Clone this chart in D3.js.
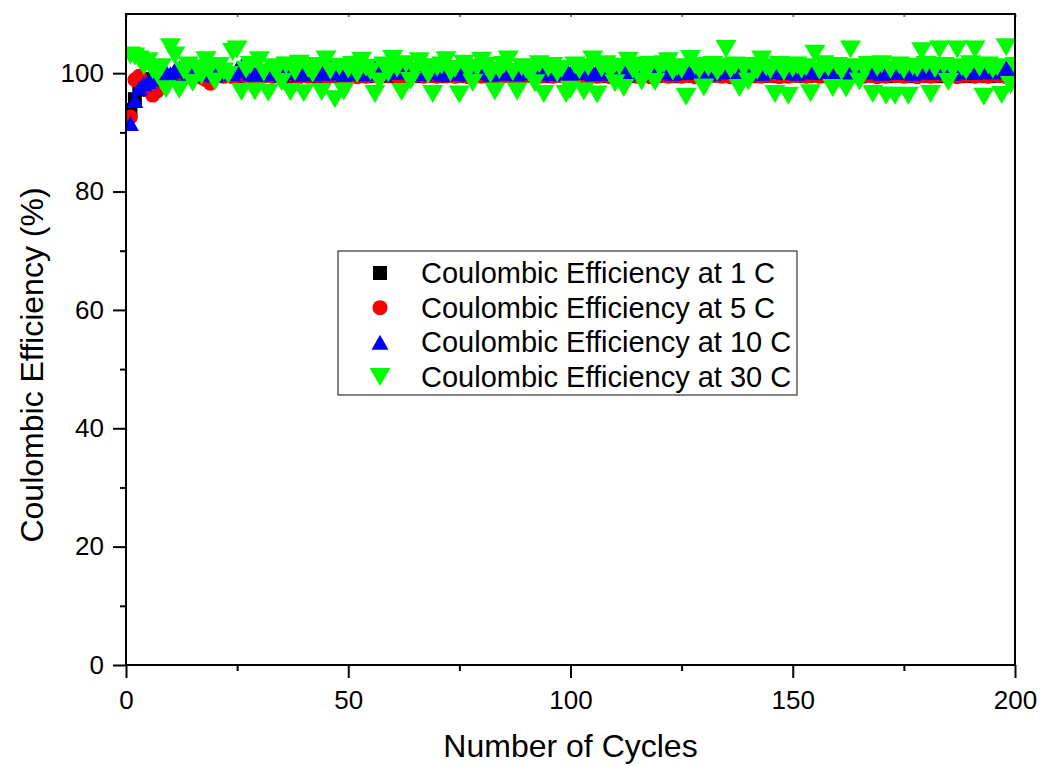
<!DOCTYPE html>
<html>
<head>
<meta charset="utf-8">
<script src="https://cdn.jsdelivr.net/npm/d3@7"></script>
<style>
  body { margin: 0; background: #fff; }
  text { font-family: "Liberation Sans", Arial, sans-serif; fill: #000; }
</style>
</head>
<body>
<svg id="chart"></svg>
<script>
// cycle numbers 1..200
const cycles = d3.range(1, 201);

const ce1C = [
  93.8, 95.6, 97.2, 98.0, 98.6, 99.0, 99.2, 99.4, 99.5, 99.6,
  99.5, 99.7, 99.6, 99.5, 99.7, 99.6, 99.4, 99.6, 99.5, 99.7,
  99.6, 99.5, 99.7, 99.6, 99.8, 99.6, 99.5, 99.7, 99.6, 99.5,
  99.7, 99.6, 99.8, 99.5, 99.6, 99.7, 99.6, 99.5, 99.7, 99.8,
  99.6, 99.7, 99.5, 99.6, 99.8, 99.7, 99.6, 99.5, 99.7, 99.6,
  99.8, 99.6, 99.7, 99.5, 99.6, 99.7, 99.8, 99.6, 99.5, 99.7,
  99.6, 99.8, 99.7, 99.6, 99.5, 99.7, 99.6, 99.8, 99.6, 99.7,
  99.5, 99.6, 99.7, 99.8, 99.6, 99.7, 99.5, 99.6, 99.8, 99.7,
  99.6, 99.5, 99.7, 99.6, 99.8, 99.7, 99.6, 99.5, 99.7, 99.6,
  99.8, 99.6, 99.7, 99.6, 99.5, 99.7, 99.8, 99.6, 99.7, 99.6,
  99.5, 99.7, 99.6, 99.8, 99.7, 99.6, 99.5, 99.7, 99.6, 99.8,
  99.6, 99.7, 99.5, 99.6, 99.8, 99.7, 99.6, 99.7, 99.5, 99.6,
  99.8, 99.7, 99.6, 99.5, 99.7, 99.6, 99.8, 99.6, 99.7, 99.5,
  99.6, 99.7, 99.8, 99.6, 99.7, 99.5, 99.6, 99.8, 99.7, 99.6,
  99.5, 99.7, 99.6, 99.8, 99.6, 99.7, 99.5, 99.6, 99.7, 99.8,
  99.6, 99.7, 99.5, 99.6, 99.8, 99.7, 99.6, 99.5, 99.7, 99.6,
  99.8, 99.6, 99.7, 99.5, 99.6, 99.7, 99.8, 99.6, 99.7, 99.6,
  99.5, 99.7, 99.6, 99.8, 99.7, 99.6, 99.5, 99.7, 99.6, 99.8,
  99.6, 99.7, 99.5, 99.6, 99.8, 99.7, 99.6, 99.7, 99.5, 99.6,
  99.8, 99.7, 99.6, 99.5, 99.7, 99.6, 99.8, 99.6, 99.7, 99.6
];

const ce5C = [
  92.6, 98.9, 99.5, 98.3, 97.6, 96.3, 97.0, 98.2, 98.8, 99.1,
  99.3, 99.5, 99.2, 99.6, 99.4, 99.7, 99.3, 98.9, 98.3, 99.4,
  99.6, 99.5, 99.7, 99.4, 99.6, 99.8, 99.5, 99.6, 99.7, 99.4,
  99.6, 99.7, 99.5, 99.8, 99.6, 99.5, 99.7, 99.6, 99.4, 99.7,
  99.5, 99.8, 99.6, 99.7, 99.5, 99.6, 99.8, 99.6, 99.5, 99.7,
  99.6, 99.4, 99.7, 99.5, 99.8, 99.6, 99.5, 99.7, 99.6, 99.8,
  99.5, 99.6, 99.7, 99.4, 99.6, 99.8, 99.5, 99.7, 99.6, 99.5,
  99.7, 99.6, 99.8, 99.5, 99.6, 99.7, 99.4, 99.6, 99.8, 99.5,
  99.7, 99.6, 99.5, 99.8, 99.6, 99.7, 99.5, 99.6, 99.4, 99.7,
  99.6, 99.8, 99.5, 99.6, 99.7, 99.5, 99.8, 99.6, 99.4, 99.7,
  99.6, 99.5, 99.8, 99.6, 99.7, 99.5, 99.6, 99.8, 99.4, 99.6,
  99.7, 99.5, 99.6, 99.8, 99.5, 99.7, 99.6, 99.4, 99.7, 99.6,
  99.8, 99.5, 99.6, 99.7, 99.5, 99.8, 99.6, 99.4, 99.7, 99.5,
  99.6, 99.8, 99.7, 99.5, 99.6, 99.4, 99.7, 99.6, 99.8, 99.5,
  99.7, 99.6, 99.5, 99.8, 99.6, 99.7, 99.4, 99.6, 99.5, 99.8,
  99.6, 99.7, 99.5, 99.6, 99.8, 99.5, 99.7, 99.6, 99.4, 99.7,
  99.6, 99.8, 99.5, 99.7, 99.6, 99.5, 100.1, 99.6, 99.4, 99.7,
  99.5, 99.8, 99.6, 99.7, 99.5, 99.6, 99.8, 99.4, 99.6, 99.7,
  99.5, 99.6, 99.8, 99.7, 99.5, 99.6, 99.4, 99.7, 99.6, 99.8,
  99.5, 99.7, 99.6, 99.5, 99.8, 99.6, 99.7, 99.4, 99.6, 99.7
];

const ce10C = [
  91.5, 95.4, 97.5, 98.2, 98.6, 99.0, 99.4, 99.8, 100.3, 99.9,
  100.6, 100.9, 100.4, 99.9, 100.7, 100.2, 99.8, 100.5, 100.1, 99.7,
  100.3, 100.0, 100.6, 99.9, 100.8, 101.2, 100.4, 100.0, 99.8, 100.5,
  100.2, 99.9, 100.6, 100.3, 99.7, 100.1, 100.9, 100.4, 99.8, 100.2,
  100.5, 99.9, 100.7, 100.3, 100.0, 101.3, 100.6, 100.1, 99.8, 100.4,
  100.0, 100.6, 100.2, 99.9, 100.4, 101.0, 100.3, 99.8, 100.5, 100.1,
  100.7, 100.2, 101.4, 100.6, 100.0, 100.3, 99.9, 100.5, 100.8, 100.2,
  99.8, 100.4, 100.1, 100.7, 100.0, 99.9, 100.5, 100.3, 100.9, 100.1,
  100.4, 99.8, 100.6, 100.2, 100.0, 100.8, 100.3, 99.9, 100.5, 100.1,
  100.3, 100.7, 100.0, 101.2, 100.4, 99.9, 100.6, 100.2, 100.8, 100.0,
  100.3, 100.9, 100.1, 100.5, 99.9, 100.4, 100.7, 100.0, 100.3, 100.6,
  100.1, 100.8, 100.2, 99.9, 100.5, 100.3, 100.7, 100.0, 100.4, 100.9,
  100.2, 100.6, 100.0, 100.4, 100.8, 100.1, 100.5, 100.3, 101.0, 100.2,
  100.6, 100.0, 100.4, 100.7, 100.2, 101.5, 100.3, 100.0, 100.6, 100.9,
  100.2, 100.5, 100.0, 100.8, 100.3, 100.6, 101.1, 100.1, 100.4, 100.7,
  100.0, 100.5, 100.9, 100.2, 100.6, 100.1, 100.4, 100.8, 100.0, 100.5,
  100.3, 100.7, 100.1, 100.4, 101.2, 100.6, 100.2, 101.4, 100.5, 100.0,
  100.4, 100.8, 100.1, 100.5, 100.2, 100.7, 100.0, 100.4, 100.9, 100.2,
  100.6, 100.1, 100.5, 100.8, 100.3, 100.0, 100.6, 100.2, 100.7, 100.4,
  100.1, 100.6, 100.3, 100.9, 100.2, 100.5, 100.7, 101.0, 100.4, 100.8
];

const ce30C = [
  103.0, 102.8, 102.3, 101.2, 102.0, 100.5, 99.8, 101.0, 97.3, 104.4,
  103.0, 97.2, 100.4, 101.3, 98.4, 100.8, 99.6, 102.2, 100.9, 98.6,
  101.2, 100.3, 99.7, 103.6, 104.0, 96.8, 100.6, 101.4, 96.9, 102.2,
  100.1, 96.7, 101.0, 100.5, 98.5, 101.3, 96.8, 100.2, 101.6, 96.6,
  100.7, 99.9, 101.2, 96.8, 102.3, 100.4, 95.6, 101.1, 96.9, 100.6,
  101.4, 99.8, 102.1, 100.9, 100.3, 96.5, 98.6, 101.3, 100.0, 102.4,
  100.8, 96.8, 101.5, 98.7, 100.4, 102.0, 101.0, 99.7, 96.5, 100.9,
  101.3, 102.2, 100.1, 100.7, 96.4, 101.6, 100.3, 98.4, 100.9, 102.1,
  101.2, 99.8, 96.9, 100.5, 101.4, 102.3, 100.2, 96.9, 101.0, 100.6,
  99.9, 98.3, 101.5, 96.5, 100.8, 101.2, 100.0, 100.7, 96.5, 97.2,
  101.3, 100.5, 96.9, 101.0, 102.3, 96.4, 100.8, 101.5, 100.2, 98.3,
  101.1, 97.5, 102.1, 100.6, 101.3, 98.6, 100.0, 101.4, 98.5, 100.9,
  101.5, 102.0, 100.3, 101.0, 100.6, 96.0, 102.4, 101.2, 100.5, 97.6,
  100.9, 101.4, 100.2, 101.1, 104.1, 100.6, 101.3, 97.5, 100.8, 98.6,
  101.2, 100.4, 102.3, 101.0, 100.5, 96.5, 101.4, 100.2, 96.2, 100.8,
  101.3, 100.6, 101.0, 96.6, 103.3, 100.4, 101.5, 100.9, 97.5, 101.2,
  100.3, 97.4, 104.0, 101.0, 98.6, 100.7, 101.4, 96.5, 100.9, 101.5,
  96.2, 100.6, 96.2, 101.3, 100.5, 96.2, 101.1, 100.8, 103.7, 101.4,
  96.5, 100.7, 104.0, 101.2, 98.5, 100.6, 104.0, 101.0, 100.4, 101.5,
  104.0, 100.9, 96.0, 101.3, 100.6, 101.0, 96.3, 104.4, 98.0, 101.2
];

const legendLabels = [
  "Coulombic Efficiency at 1 C",
  "Coulombic Efficiency at 5 C",
  "Coulombic Efficiency at 10 C",
  "Coulombic Efficiency at 30 C"
];
const xMajorTicks = [0, 50, 100, 150, 200];
const xMinorTicks = [25, 75, 125, 175];
const yMajorTicks = [0, 20, 40, 60, 80, 100];
const yMinorTicks = [10, 30, 50, 70, 90];

const W = 1040, H = 766;
const margin = {top: 14, right: 25, bottom: 101, left: 126};

const svg = d3.select("#chart").attr("width", W).attr("height", H);

const x = d3.scaleLinear().domain([0, 200]).range([margin.left, W - margin.right]);
const y = d3.scaleLinear().domain([0, 110]).range([H - margin.bottom, margin.top]);

// marker shapes, centred on their bounding box like Origin does
function tri(w, h, down) {
  const s = down ? -1 : 1;
  return `M0,${-s * h / 2}L${w / 2},${s * h / 2}L${-w / 2},${s * h / 2}Z`;
}
const shapes = [
  {data: ce1C,  color: "#000000", d: "M-7,-7H7V7H-7Z"},
  {data: ce5C,  color: "#ff0000", d: d3.symbol(d3.symbolCircle, Math.PI * 7.5 * 7.5)()},
  {data: ce10C, color: "#0000ff", d: tri(17, 15, false)},
  {data: ce30C, color: "#00ff00", d: tri(21, 18, true)}
];

svg.append("clipPath").attr("id", "plotclip")
  .append("rect")
  .attr("x", x(0)).attr("y", y(110))
  .attr("width", x(200) - x(0)).attr("height", y(0) - y(110));

const plot = svg.append("g").attr("clip-path", "url(#plotclip)");

shapes.forEach(s => {
  plot.append("g").selectAll("path")
    .data(cycles)
    .join("path")
    .attr("d", s.d)
    .attr("fill", s.color)
    .attr("transform", (c, i) => `translate(${x(c)},${y(s.data[i])})`);
});

// axes
const fontTick = "26px";

svg.append("g")
  .attr("transform", `translate(0,${y(0)})`)
  .call(d3.axisBottom(x).tickValues(xMajorTicks).tickSize(13).tickSizeOuter(0).tickPadding(13));
svg.append("g")
  .attr("transform", `translate(0,${y(0)})`)
  .call(d3.axisBottom(x).tickValues(xMinorTicks).tickSize(6).tickSizeOuter(0).tickFormat(""));

svg.append("g")
  .attr("transform", `translate(${x(0)},0)`)
  .call(d3.axisLeft(y).tickValues(yMajorTicks).tickSize(13).tickSizeOuter(0).tickPadding(9));
svg.append("g")
  .attr("transform", `translate(${x(0)},0)`)
  .call(d3.axisLeft(y).tickValues(yMinorTicks).tickSize(6).tickSizeOuter(0).tickFormat(""));

// small inward ticks on the top edge
svg.append("g")
  .attr("transform", `translate(0,${y(110)})`)
  .call(d3.axisBottom(x).tickValues(xMajorTicks.concat(xMinorTicks)).tickSize(3).tickSizeOuter(0).tickFormat(""))
  .selectAll("line").attr("stroke", "#777");

svg.selectAll(".domain").remove();
svg.selectAll(".tick line").attr("stroke-width", 2);
svg.selectAll(".tick text")
  .style("font-size", fontTick)
  .style("font-family", '"Liberation Sans", Arial, sans-serif');

// frame
svg.append("rect")
  .attr("x", x(0)).attr("y", y(110))
  .attr("width", x(200) - x(0)).attr("height", y(0) - y(110))
  .attr("fill", "none").attr("stroke", "#000").attr("stroke-width", 2);

// axis titles
svg.append("text")
  .attr("x", (x(0) + x(200)) / 2).attr("y", 757)
  .attr("text-anchor", "middle")
  .style("font-size", "32px")
  .text("Number of Cycles");

svg.append("text")
  .attr("transform", `translate(43,365) rotate(-90)`)
  .attr("text-anchor", "middle")
  .style("font-size", "32px")
  .text("Coulombic Efficiency (%)");

// legend
const legend = svg.append("g");
legend.append("rect")
  .attr("x", 338).attr("y", 251).attr("width", 459).attr("height", 144)
  .attr("fill", "#fff").attr("stroke", "#333").attr("stroke-width", 1.2);

const legendY = d3.scalePoint().domain(legendLabels).range([273, 377]);
legendLabels.forEach((lab, i) => {
  legend.append("path")
    .attr("d", shapes[i].d)
    .attr("fill", shapes[i].color)
    .attr("transform", `translate(380,${legendY(lab)})`);
  legend.append("text")
    .attr("x", 421).attr("y", legendY(lab) + 10)
    .style("font-size", "29px")
    .text(lab);
});
</script>
</body>
</html>
